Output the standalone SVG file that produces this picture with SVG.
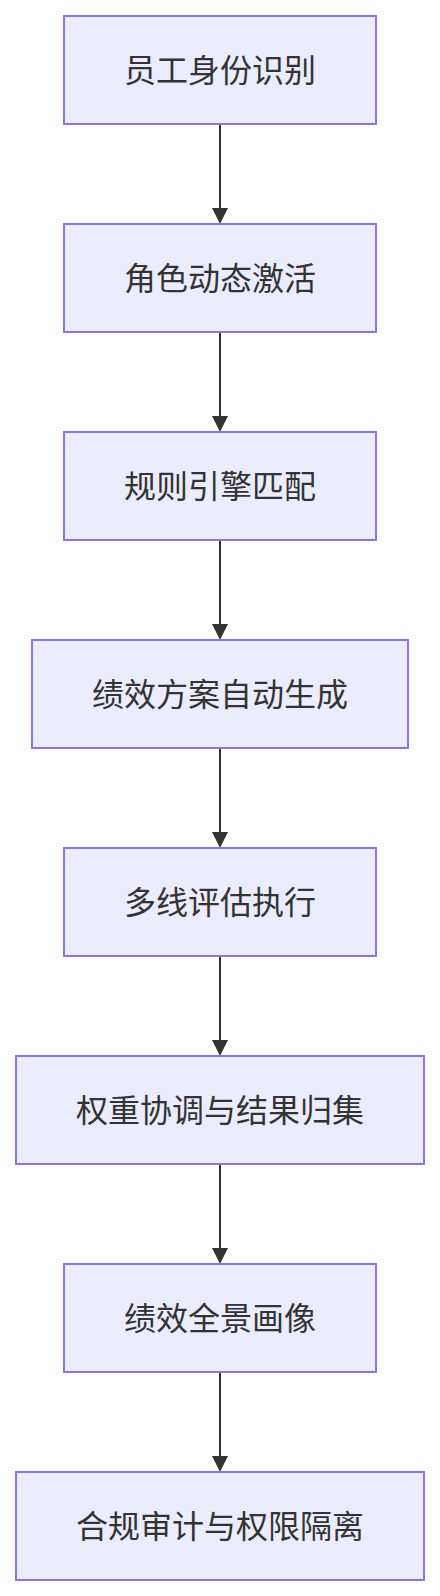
<svg xmlns="http://www.w3.org/2000/svg" width="440" height="1596" viewBox="0 0 440 1596">
<style>
.node rect{fill:#ECECFF;stroke:#9370DB;stroke-width:2}
.node text{fill:#333333;font-family:"Noto Sans CJK SC","Noto Sans",sans-serif;font-size:32px;text-anchor:middle;dominant-baseline:central}
.edge{stroke:#333333;stroke-width:2;fill:none}
.head{fill:#333333}
</style>
<rect width="440" height="1596" fill="#FFFFFF"/>
<g id="connectors">
<line class="edge" x1="220" y1="124" x2="220" y2="209"/><polygon class="head" points="212,208 228,208 220,224"/>
<line class="edge" x1="220" y1="332" x2="220" y2="417"/><polygon class="head" points="212,416 228,416 220,432"/>
<line class="edge" x1="220" y1="540" x2="220" y2="625"/><polygon class="head" points="212,624 228,624 220,640"/>
<line class="edge" x1="220" y1="748" x2="220" y2="833"/><polygon class="head" points="212,832 228,832 220,848"/>
<line class="edge" x1="220" y1="956" x2="220" y2="1041"/><polygon class="head" points="212,1040 228,1040 220,1056"/>
<line class="edge" x1="220" y1="1164" x2="220" y2="1249"/><polygon class="head" points="212,1248 228,1248 220,1264"/>
<line class="edge" x1="220" y1="1372" x2="220" y2="1457"/><polygon class="head" points="212,1456 228,1456 220,1472"/>
</g>
<g id="n1" class="node"><rect x="64" y="16" width="312" height="108"/><text x="220" y="68">员工身份识别</text></g>
<g id="n2" class="node"><rect x="64" y="224" width="312" height="108"/><text x="220" y="276">角色动态激活</text></g>
<g id="n3" class="node"><rect x="64" y="432" width="312" height="108"/><text x="220" y="484">规则引擎匹配</text></g>
<g id="n4" class="node"><rect x="32" y="640" width="376" height="108"/><text x="220" y="692">绩效方案自动生成</text></g>
<g id="n5" class="node"><rect x="64" y="848" width="312" height="108"/><text x="220" y="900">多线评估执行</text></g>
<g id="n6" class="node"><rect x="16" y="1056" width="408" height="108"/><text x="220" y="1108">权重协调与结果归集</text></g>
<g id="n7" class="node"><rect x="64" y="1264" width="312" height="108"/><text x="220" y="1316">绩效全景画像</text></g>
<g id="n8" class="node"><rect x="16" y="1472" width="408" height="108"/><text x="220" y="1524">合规审计与权限隔离</text></g>
</svg>
